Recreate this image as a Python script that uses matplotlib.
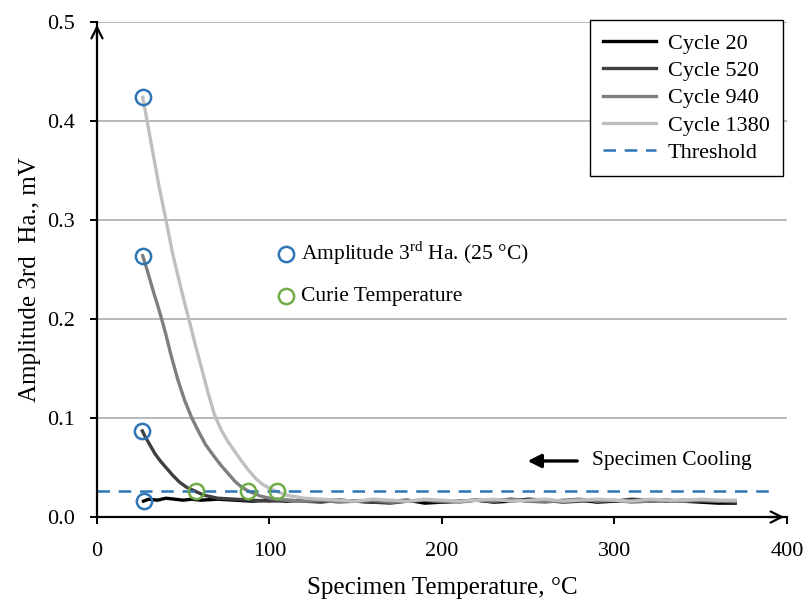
import matplotlib.pyplot as plt

plt.rcParams['font.family'] = ['Liberation Serif', 'DejaVu Serif']

# --- data ---
c20_T = [27, 30, 35, 40, 45, 50, 55, 60, 70, 80, 90, 100, 110, 120, 130, 140, 150, 160, 170, 180,
         190, 200, 210, 220, 230, 240, 250, 260, 270, 280, 290, 300, 310, 320, 330, 340, 350, 360, 370]
c20_A = [0.016, 0.018, 0.017, 0.019, 0.018, 0.017, 0.018, 0.017, 0.018, 0.017, 0.016, 0.017, 0.016,
         0.017, 0.016, 0.017, 0.016, 0.015, 0.016, 0.017, 0.014, 0.015, 0.016, 0.017, 0.015, 0.016,
         0.018, 0.017, 0.016, 0.017, 0.015, 0.016, 0.017, 0.016, 0.017, 0.016, 0.015, 0.014, 0.014]

c520_T = [26.3, 28, 30, 33.6, 37, 40, 44, 48, 52, 57, 62, 70, 80, 90, 100, 110, 120, 130, 140, 150,
          160, 170, 180, 190, 200, 210, 220, 230, 240, 250, 260, 270, 280, 290, 300, 310, 320, 330,
          340, 350, 360, 370]
c520_A = [0.087, 0.081, 0.075, 0.064, 0.056, 0.050, 0.042, 0.035, 0.030, 0.026, 0.022, 0.019, 0.018,
          0.017, 0.016, 0.017, 0.016, 0.015, 0.017, 0.016, 0.015, 0.014, 0.016, 0.017, 0.015, 0.016,
          0.017, 0.016, 0.018, 0.016, 0.017, 0.015, 0.016, 0.017, 0.016, 0.018, 0.017, 0.016, 0.017,
          0.016, 0.016, 0.015]

c940_T = [26.5, 29, 31, 33, 35.5, 37.5, 40, 43, 47, 51, 55, 59, 63, 68, 72, 76, 80, 84, 88, 95,
          100, 110, 120, 130, 140, 150, 160, 170, 180, 190, 200, 210, 220, 230, 240, 250, 260, 270,
          280, 290, 300, 310, 320, 330, 340, 350, 360, 370]
c940_A = [0.264, 0.250, 0.238, 0.226, 0.212, 0.200, 0.184, 0.163, 0.138, 0.117, 0.100, 0.086, 0.073,
          0.061, 0.052, 0.044, 0.036, 0.030, 0.026, 0.021, 0.019, 0.017, 0.016, 0.017, 0.015, 0.016,
          0.017, 0.015, 0.016, 0.017, 0.016, 0.015, 0.017, 0.016, 0.018, 0.016, 0.015, 0.017, 0.018,
          0.016, 0.017, 0.015, 0.016, 0.017, 0.016, 0.017, 0.016, 0.016]

c1380_T = [26.5, 29, 32, 36, 40, 44, 48, 51, 54, 57, 61, 64, 68, 72, 76, 80, 84, 88, 92, 96, 100,
           104, 110, 120, 130, 140, 150, 160, 170, 180, 190, 200, 210, 220, 230, 240, 250, 260, 270,
           280, 290, 300, 310, 320, 330, 340, 350, 360, 370]
c1380_A = [0.424, 0.401, 0.372, 0.334, 0.300, 0.265, 0.236, 0.215, 0.195, 0.174, 0.148, 0.128, 0.104,
           0.088, 0.076, 0.066, 0.056, 0.047, 0.039, 0.033, 0.029, 0.026, 0.022, 0.019, 0.018, 0.017,
           0.016, 0.018, 0.017, 0.016, 0.018, 0.017, 0.016, 0.017, 0.018, 0.016, 0.017, 0.018, 0.016,
           0.017, 0.018, 0.017, 0.016, 0.018, 0.017, 0.017, 0.018, 0.017, 0.017]

thr_T = [0, 390]
thr_A = [0.026, 0.026]

amp25_T = [26.5, 26.5, 26.3, 27.2]
amp25_A = [0.424, 0.264, 0.087, 0.0165]
curie_T = [57.2, 87.7, 104.5]
curie_A = [0.026, 0.026, 0.026]

BLUE = '#2e75b6'
GREEN = '#70ad47'

fig = plt.figure(figsize=(8.04, 6.03), dpi=100)
ax = fig.add_axes([0.1206, 0.1426, 0.8582, 0.8209])

ax.plot(c20_T, c20_A, color='#000000', lw=2.4, label='Cycle 20')
ax.plot(c520_T, c520_A, color='#404040', lw=2.4, label='Cycle 520')
ax.plot(c940_T, c940_A, color='#7f7f7f', lw=2.4, label='Cycle 940')
ax.plot(c1380_T, c1380_A, color='#bfbfbf', lw=2.4, label='Cycle 1380')
ax.plot(thr_T, thr_A, color=BLUE, lw=1.8, ls=(0, (5, 3.5)), label='Threshold')

ax.plot(amp25_T, amp25_A, 'o', ms=11, mfc='none', mec=BLUE, mew=1.8, clip_on=False)
ax.plot(curie_T, curie_A, 'o', ms=11, mfc='none', mec=GREEN, mew=1.8)

# key for the circles
ax.plot([109.6], [0.266], 'o', ms=11, mfc='none', mec=BLUE, mew=1.8)
ax.plot([109.6], [0.223], 'o', ms=11, mfc='none', mec=GREEN, mew=1.8)
ax.text(118.5, 0.266, 'Amplitude 3$^{\\mathregular{rd}}$ Ha. (25 °C)', fontsize=15.5, va='center')
ax.text(118.5, 0.223, 'Curie Temperature', fontsize=15.5, va='center')

ax.annotate('', xy=(248, 0.0566), xytext=(280, 0.0566),
            arrowprops=dict(arrowstyle='-|>', color='black', lw=2.4, mutation_scale=20))
ax.text(287, 0.0566, 'Specimen Cooling', fontsize=15.5, va='center')

ax.set_xlim(0, 400)
ax.set_ylim(0, 0.5)
ax.set_xticks([0, 100, 200, 300, 400])
ax.set_yticks([0.0, 0.1, 0.2, 0.3, 0.4, 0.5])
ax.set_yticklabels(['0.0', '0.1', '0.2', '0.3', '0.4', '0.5'])
ax.yaxis.grid(True, color='#a6a6a6', lw=1.1)
ax.set_axisbelow(True)

for s in ['top', 'right']:
    ax.spines[s].set_visible(False)
for s in ['left', 'bottom']:
    ax.spines[s].set_linewidth(1.6)
ax.tick_params(direction='out', length=5, width=1.4, labelsize=16)
ax.tick_params(axis='x', pad=13)
ax.tick_params(axis='y', pad=11)

# arrow heads on axes
ax.annotate('', xy=(1.0, 0), xytext=(0.97, 0), xycoords='axes fraction',
            arrowprops=dict(arrowstyle='->', color='black', lw=1.6, mutation_scale=20))
ax.annotate('', xy=(0, 1.0), xytext=(0, 0.96), xycoords='axes fraction',
            arrowprops=dict(arrowstyle='->', color='black', lw=1.6, mutation_scale=20))

ax.set_xlabel('Specimen Temperature, °C', fontsize=18)
ax.set_ylabel('Amplitude 3rd  Ha., mV', fontsize=18)
ax.xaxis.set_label_coords(0.5, -0.122)
ax.yaxis.set_label_coords(-0.081, 0.48)

leg = ax.legend(loc='upper right', bbox_to_anchor=(0.994, 1.004), fontsize=16,
                frameon=True, fancybox=False, framealpha=1, edgecolor='black',
                handlelength=2.4, labelspacing=0.3, borderpad=0.6, handletextpad=0.5,
                borderaxespad=0)
leg.get_frame().set_linewidth(1.0)

fig.savefig('out.png', dpi=100)
plt.close()
